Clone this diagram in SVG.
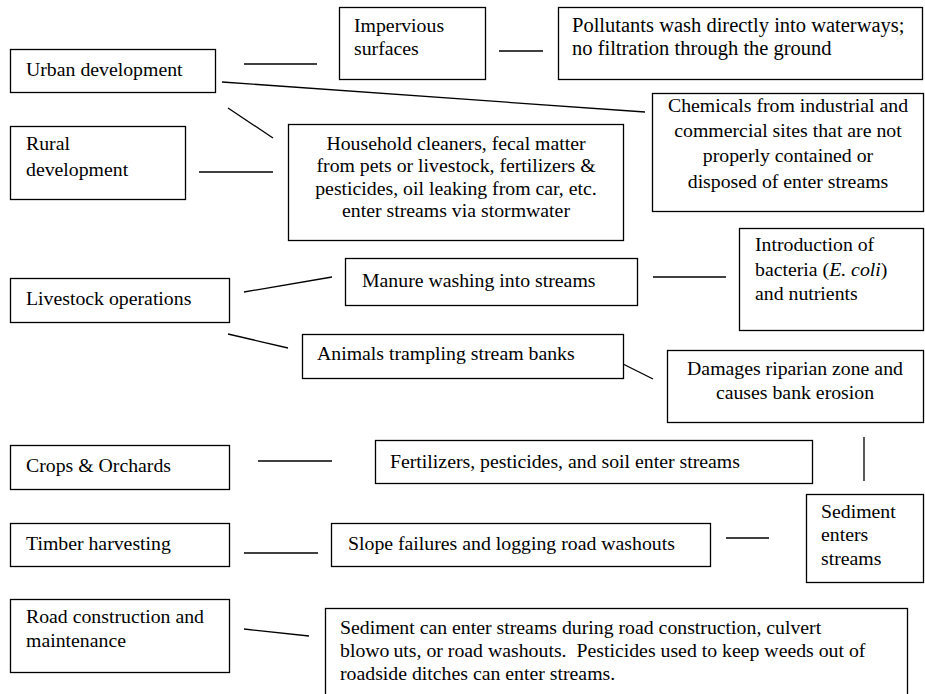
<svg xmlns="http://www.w3.org/2000/svg" width="925" height="694" viewBox="0 0 925 694">
<style>
rect{fill:#fff;stroke:#000;stroke-width:1.3}
text{font-family:"Liberation Serif","Tinos","Times New Roman","DejaVu Serif",serif;font-size:19.8px;fill:#000}
.c{text-anchor:middle}
.big{font-size:20.5px}
#connectors line{stroke:#000;stroke-width:1.3}
</style>
<rect x="0" y="0" width="925" height="694" style="stroke:none"/>
<g id="connectors">
<line x1="244" y1="64" x2="317" y2="64"/>
<line x1="499" y1="51" x2="543" y2="51"/>
<line x1="222" y1="82" x2="645" y2="112"/>
<line x1="228" y1="108" x2="273" y2="138"/>
<line x1="199" y1="172" x2="273" y2="172"/>
<line x1="244" y1="292" x2="332" y2="277"/>
<line x1="653" y1="277" x2="726" y2="277"/>
<line x1="228" y1="334" x2="288" y2="348"/>
<line x1="623" y1="364" x2="653" y2="379"/>
<line x1="864" y1="437" x2="864" y2="481"/>
<line x1="258" y1="461" x2="332" y2="461"/>
<line x1="244" y1="553" x2="318" y2="553"/>
<line x1="726" y1="538" x2="769" y2="538"/>
<line x1="244" y1="629" x2="309" y2="636"/>
</g>
<g id="urban"><rect x="10.5" y="49.5" width="205" height="43"/><text x="26" y="76">Urban development</text></g>
<g id="rural"><rect x="10.5" y="126.5" width="175" height="73"/><text x="26" y="150">Rural</text><text x="26" y="176">development</text></g>
<g id="impervious"><rect x="339.5" y="7.5" width="146" height="72"/><text x="354" y="32">Impervious</text><text x="354" y="55">surfaces</text></g>
<g id="pollutants"><rect x="558.5" y="7.5" width="364" height="72"/><text class="big" x="572" y="32">Pollutants wash directly into waterways;</text><text class="big" x="572" y="55">no filtration through the ground</text></g>
<g id="household"><rect x="288.5" y="124.5" width="335" height="116"/><text class="c" x="456" y="150">Household cleaners, fecal matter</text><text class="c" x="456" y="172">from pets or livestock, fertilizers &amp;</text><text class="c" x="456" y="195">pesticides, oil leaking from car, etc.</text><text class="c" x="456" y="217">enter streams via stormwater</text></g>
<g id="chemicals"><rect x="652.5" y="93.5" width="271" height="118"/><text class="c" x="788" y="112">Chemicals from industrial and</text><text class="c" x="788" y="137">commercial sites that are not</text><text class="c" x="788" y="162">properly contained or</text><text class="c" x="788" y="188">disposed of enter streams</text></g>
<g id="livestock"><rect x="10.5" y="278.5" width="219" height="44"/><text x="26" y="305">Livestock operations</text></g>
<g id="manure"><rect x="345.5" y="258.5" width="292" height="47"/><text x="362" y="287">Manure washing into streams</text></g>
<g id="introduction"><rect x="739.5" y="228.5" width="184" height="102"/><text x="755" y="251">Introduction of</text><text x="755" y="276">bacteria (<tspan font-style="italic">E. coli</tspan>)</text><text x="755" y="300">and nutrients</text></g>
<g id="animals"><rect x="302.5" y="334.5" width="321" height="44"/><text x="317" y="360">Animals trampling stream banks</text></g>
<g id="damages"><rect x="667.5" y="350.5" width="256" height="72"/><text class="c" x="795" y="375">Damages riparian zone and</text><text class="c" x="795" y="399">causes bank erosion</text></g>
<g id="crops"><rect x="10.5" y="445.5" width="219" height="44"/><text x="26" y="472">Crops &amp; Orchards</text></g>
<g id="fertilizers"><rect x="375.5" y="440.5" width="437" height="43"/><text x="390" y="468">Fertilizers, pesticides, and soil enter streams</text></g>
<g id="timber"><rect x="10.5" y="523.5" width="219" height="43"/><text x="26" y="550">Timber harvesting</text></g>
<g id="slope"><rect x="331.5" y="523.5" width="379" height="43"/><text x="348" y="550">Slope failures and logging road washouts</text></g>
<g id="sediment"><rect x="806.5" y="494.5" width="117" height="88"/><text x="821" y="518">Sediment</text><text x="821" y="541">enters</text><text x="821" y="565">streams</text></g>
<g id="road"><rect x="10.5" y="599.5" width="219" height="73"/><text x="26" y="623">Road construction and</text><text x="26" y="647">maintenance</text></g>
<g id="sedcan"><rect x="325.5" y="608.5" width="582" height="100"/><text x="340" y="634">Sediment can enter streams during road construction, culvert</text><text x="340" y="657">blowo<tspan dx="4">uts, or road washouts. </tspan><tspan dx="5">Pesticides used to keep weeds out of</tspan></text><text x="340" y="680">roadside ditches can enter streams.</text></g>
</svg>
